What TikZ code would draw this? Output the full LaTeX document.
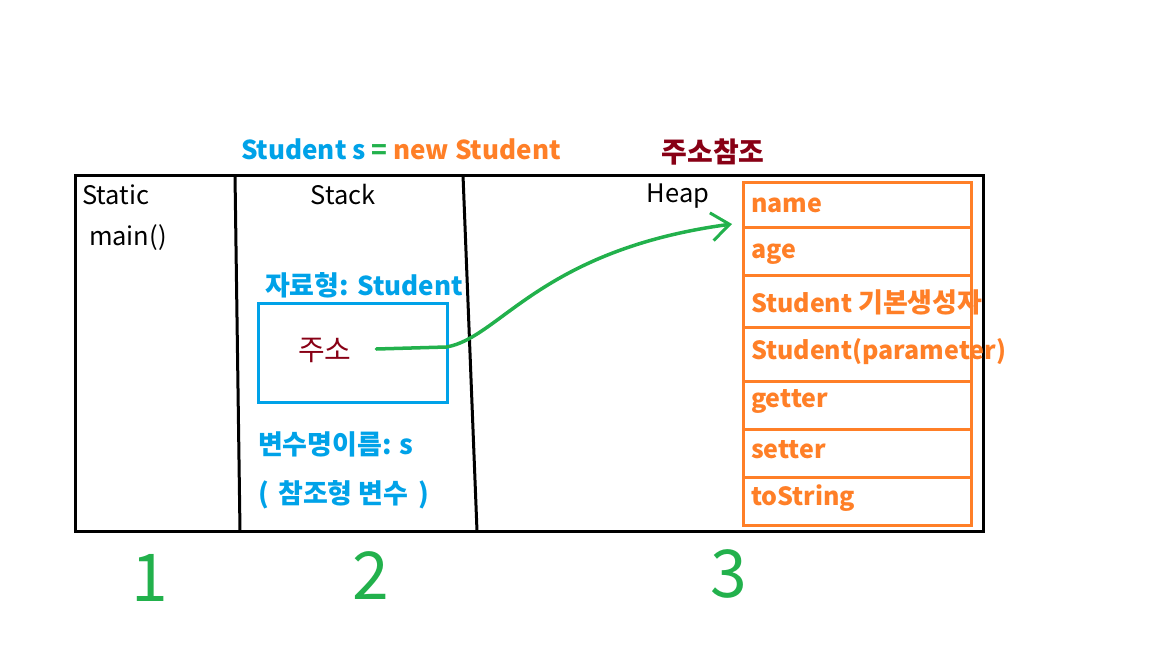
\documentclass[tikz,border=0pt]{standalone}
\usepackage{fontspec}
\setmainfont{Noto Sans CJK KR}
\usetikzlibrary{arrows.meta}
\definecolor{pblue}{HTML}{00A2E8}
\definecolor{pgreen}{HTML}{22B14C}
\definecolor{porange}{HTML}{FF7F27}
\definecolor{pred}{HTML}{880015}
\begin{document}
\begin{tikzpicture}[x=1pt,y=-1pt,
  every node/.style={inner sep=0pt, outer sep=0pt},
  plain/.style={font=\fontsize{25.5}{30}\selectfont, text=black},
  bluelab/.style={font=\bfseries\fontsize{27}{32}\selectfont, text=pblue},
  orlab/.style={font=\bfseries\fontsize{25}{30}\selectfont, text=porange, anchor=west},
  rowbox/.style={draw=porange, line width=3pt, minimum width=228pt, anchor=north west},
  digit/.style={font=\fontsize{66}{70}\selectfont, text=pgreen},
  wall/.style={line width=3pt, black}
]
\useasboundingbox (0,0) rectangle (1152,648);

% memory frame
\draw[wall] (75,175) rectangle (983,531);
\coordinate (d1t) at (235,175); \coordinate (d1b) at (240,531);
\coordinate (d2t) at (463,175); \coordinate (d2b) at (477,531);
\draw[wall] (d1t) -- (d1b);
\draw[wall] (d2t) -- (d2b);

% headings
\node[plain, anchor=west] (static) at (82,195) {Static};
\node[plain, anchor=west] (main) at (89,238) {main()};
\node[plain] (stack) at (343,195) {Stack};
\node[plain] (heap) at (678,196) {Heap};

\node[font=\bfseries\fontsize{26}{30}\selectfont, anchor=west] (title) at (241,149)
  {\textcolor{pblue}{Student s} \textcolor{pgreen}{=} \textcolor{porange}{new Student}};
\node[font=\bfseries\fontsize{28}{32}\selectfont, text=pred] (ref) at (713,152) {주소참조};

% stack contents
\node[bluelab, anchor=west] (type) at (265,285) {자료형: {\fontsize{26}{30}\selectfont Student}};
\node[draw=pblue, line width=3pt, minimum width=189pt, minimum height=99pt] (var) at (352.5,352.5) {};
\node[plain, font=\fontsize{29}{34}\selectfont, text=pred, anchor=west] (addr) at (298,350) {주소};
\node[bluelab, anchor=west] (vname) at (258,444) {변수명이름: s};
\node[bluelab, anchor=west] (vkind) at (258,495) {(\hspace{0.35em}참조형 변수\hspace{0.35em})};

% heap object
\node[rowbox, minimum height=45pt] (r1) at (743,182) {};
\node[rowbox, minimum height=48pt] (r2) at (743,227) {};
\node[rowbox, minimum height=52pt] (r3) at (743,275) {};
\node[rowbox, minimum height=54pt] (r4) at (743,327) {};
\node[rowbox, minimum height=48pt] (r5) at (743,381) {};
\node[rowbox, minimum height=48pt] (r6) at (743,429) {};
\node[rowbox, minimum height=48pt] (r7) at (743,477) {};
\node[orlab] (t1) at (751,205) {name};
\node[orlab] (t2) at (751,254) {age};
\node[orlab] (t3) at (751,302) {Student {\fontsize{27}{30}\selectfont 기본생성자}};
\node[orlab] (t4) at (751,352) {Student(parameter)};
\node[orlab] (t5) at (751,401) {getter};
\node[orlab] (t6) at (751,450) {setter};
\node[orlab] (t7) at (751,498) {toString};

% reference arrow
\coordinate (as) at (addr.east |- 0,349);
\coordinate (as2) at ([xshift=25pt]as);
\coordinate (ae) at ([xshift=-11pt,yshift=3pt]r1.south west);
\draw[pgreen, line width=3.5pt, line cap=round, -{Straight Barb[length=18pt,width=28pt,line width=3pt]}]
  (as2) -- ++(70,-2) .. controls (500,338) and (540,250) .. (ae);

% region numbers
\node[digit] (n1) at (150,578) {1};
\node[digit] (n2) at (371,576) {2};
\node[digit] (n3) at (729,574) {3};
\end{tikzpicture}
\end{document}
